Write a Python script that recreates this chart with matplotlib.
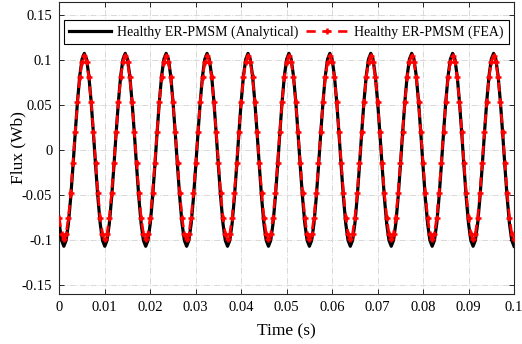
import numpy as np
import matplotlib
matplotlib.use('Agg')
import matplotlib.pyplot as plt

# sample times (s), one flux value every 0.5 ms
time = np.linspace(0, 0.1, 201)

# flux (Wb)
flux_analytical = [
    -0.082, -0.1005,
    -0.107, -0.1005, -0.082, -0.0535, -0.0186, 0.0186, 0.0535, 0.082, 0.1005, 0.107, 0.1005, 0.082, 0.0535, 0.0186, -0.0186, -0.0535, -0.082, -0.1005,
    -0.107, -0.1005, -0.082, -0.0535, -0.0186, 0.0186, 0.0535, 0.082, 0.1005, 0.107, 0.1005, 0.082, 0.0535, 0.0186, -0.0186, -0.0535, -0.082, -0.1005,
    -0.107, -0.1005, -0.082, -0.0535, -0.0186, 0.0186, 0.0535, 0.082, 0.1005, 0.107, 0.1005, 0.082, 0.0535, 0.0186, -0.0186, -0.0535, -0.082, -0.1005,
    -0.107, -0.1005, -0.082, -0.0535, -0.0186, 0.0186, 0.0535, 0.082, 0.1005, 0.107, 0.1005, 0.082, 0.0535, 0.0186, -0.0186, -0.0535, -0.082, -0.1005,
    -0.107, -0.1005, -0.082, -0.0535, -0.0186, 0.0186, 0.0535, 0.082, 0.1005, 0.107, 0.1005, 0.082, 0.0535, 0.0186, -0.0186, -0.0535, -0.082, -0.1005,
    -0.107, -0.1005, -0.082, -0.0535, -0.0186, 0.0186, 0.0535, 0.082, 0.1005, 0.107, 0.1005, 0.082, 0.0535, 0.0186, -0.0186, -0.0535, -0.082, -0.1005,
    -0.107, -0.1005, -0.082, -0.0535, -0.0186, 0.0186, 0.0535, 0.082, 0.1005, 0.107, 0.1005, 0.082, 0.0535, 0.0186, -0.0186, -0.0535, -0.082, -0.1005,
    -0.107, -0.1005, -0.082, -0.0535, -0.0186, 0.0186, 0.0535, 0.082, 0.1005, 0.107, 0.1005, 0.082, 0.0535, 0.0186, -0.0186, -0.0535, -0.082, -0.1005,
    -0.107, -0.1005, -0.082, -0.0535, -0.0186, 0.0186, 0.0535, 0.082, 0.1005, 0.107, 0.1005, 0.082, 0.0535, 0.0186, -0.0186, -0.0535, -0.082, -0.1005,
    -0.107, -0.1005, -0.082, -0.0535, -0.0186, 0.0186, 0.0535, 0.082, 0.1005, 0.107, 0.1005, 0.082, 0.0535, 0.0186, -0.0186, -0.0535, -0.082, -0.1005,
    -0.107, -0.1005, -0.082, -0.0535, -0.0186, 0.0186, 0.0535, 0.082, 0.1005, 0.107, 0.1005, 0.082, 0.0535, 0.0186, -0.0186, -0.0535, -0.082, -0.1005,
    -0.107,
]

flux_fea = [
    -0.0753, -0.0929,
    -0.099, -0.0929, -0.0753, -0.0483, -0.0151, 0.0201, 0.0533, 0.0803, 0.0979, 0.104, 0.0979, 0.0803, 0.0533, 0.0201, -0.0151, -0.0483, -0.0753, -0.0929,
    -0.099, -0.0929, -0.0753, -0.0483, -0.0151, 0.0201, 0.0533, 0.0803, 0.0979, 0.104, 0.0979, 0.0803, 0.0533, 0.0201, -0.0151, -0.0483, -0.0753, -0.0929,
    -0.099, -0.0929, -0.0753, -0.0483, -0.0151, 0.0201, 0.0533, 0.0803, 0.0979, 0.104, 0.0979, 0.0803, 0.0533, 0.0201, -0.0151, -0.0483, -0.0753, -0.0929,
    -0.099, -0.0929, -0.0753, -0.0483, -0.0151, 0.0201, 0.0533, 0.0803, 0.0979, 0.104, 0.0979, 0.0803, 0.0533, 0.0201, -0.0151, -0.0483, -0.0753, -0.0929,
    -0.099, -0.0929, -0.0753, -0.0483, -0.0151, 0.0201, 0.0533, 0.0803, 0.0979, 0.104, 0.0979, 0.0803, 0.0533, 0.0201, -0.0151, -0.0483, -0.0753, -0.0929,
    -0.099, -0.0929, -0.0753, -0.0483, -0.0151, 0.0201, 0.0533, 0.0803, 0.0979, 0.104, 0.0979, 0.0803, 0.0533, 0.0201, -0.0151, -0.0483, -0.0753, -0.0929,
    -0.099, -0.0929, -0.0753, -0.0483, -0.0151, 0.0201, 0.0533, 0.0803, 0.0979, 0.104, 0.0979, 0.0803, 0.0533, 0.0201, -0.0151, -0.0483, -0.0753, -0.0929,
    -0.099, -0.0929, -0.0753, -0.0483, -0.0151, 0.0201, 0.0533, 0.0803, 0.0979, 0.104, 0.0979, 0.0803, 0.0533, 0.0201, -0.0151, -0.0483, -0.0753, -0.0929,
    -0.099, -0.0929, -0.0753, -0.0483, -0.0151, 0.0201, 0.0533, 0.0803, 0.0979, 0.104, 0.0979, 0.0803, 0.0533, 0.0201, -0.0151, -0.0483, -0.0753, -0.0929,
    -0.099, -0.0929, -0.0753, -0.0483, -0.0151, 0.0201, 0.0533, 0.0803, 0.0979, 0.104, 0.0979, 0.0803, 0.0533, 0.0201, -0.0151, -0.0483, -0.0753, -0.0929,
    -0.099, -0.0929, -0.0753, -0.0483, -0.0151, 0.0201, 0.0533, 0.0803, 0.0979, 0.104, 0.0979, 0.0803, 0.0533, 0.0201, -0.0151, -0.0483, -0.0753, -0.0929,
    -0.099,
]

x_ticks = [0, 0.01, 0.02, 0.03, 0.04, 0.05, 0.06, 0.07, 0.08, 0.09, 0.1]
x_tick_labels = ['0', '0.01', '0.02', '0.03', '0.04', '0.05', '0.06', '0.07', '0.08', '0.09', '0.1']
y_ticks = [-0.15, -0.1, -0.05, 0, 0.05, 0.1, 0.15]
y_tick_labels = ['-0.15', '-0.1', '-0.05', '0', '0.05', '0.1', '0.15']

label_analytical = 'Healthy ER-PMSM (Analytical)'
label_fea = 'Healthy ER-PMSM (FEA)'


def main():
    plt.rcParams['font.family'] = ['Liberation Serif', 'DejaVu Serif']

    fig = plt.figure(figsize=(5.22, 3.44), dpi=100)
    ax = fig.add_axes([0.1136, 0.1453, 0.8711, 0.8489])

    ax.plot(time, flux_analytical, color='black', linewidth=2.3, label=label_analytical, zorder=3)
    ax.plot(time, flux_fea, color='red', linewidth=1.9, linestyle=(0, (3.5, 2.5)),
            marker='+', markersize=4.5, markeredgewidth=1.8, label=label_fea, zorder=4)

    ax.set_xlim(0, 0.1)
    ax.set_ylim(-0.16, 0.164)
    ax.set_xticks(x_ticks)
    ax.set_xticklabels(x_tick_labels)
    ax.set_yticks(y_ticks)
    ax.set_yticklabels(y_tick_labels)

    # matlab-like box: inward ticks on every side, dash-dot grid
    ax.tick_params(direction='in', top=True, right=True, length=3.5, width=0.7,
                   labelsize=10.5, colors='#262626', labelcolor='black', pad=5)
    for side in ax.spines.values():
        side.set_color('#262626')
        side.set_linewidth(0.8)
    ax.grid(True, linestyle='-.', color='#d9d9d9', linewidth=0.7)
    ax.set_axisbelow(True)

    ax.set_xlabel('Time (s)', fontsize=12.5, labelpad=7)
    ax.set_ylabel('Flux (Wb)', fontsize=12.5)
    ax.yaxis.set_label_coords(-0.073, 0.5)

    leg = ax.legend(loc='upper left', bbox_to_anchor=(0.01, 0.94, 0.978, 0.0), mode='expand',
                    ncol=2, fontsize=10, handlelength=3, borderaxespad=0, fancybox=False,
                    framealpha=1, edgecolor='black', columnspacing=1.0, handletextpad=0.4)
    leg.get_frame().set_linewidth(0.8)

    fig.savefig('out.png', dpi=100)


main()
